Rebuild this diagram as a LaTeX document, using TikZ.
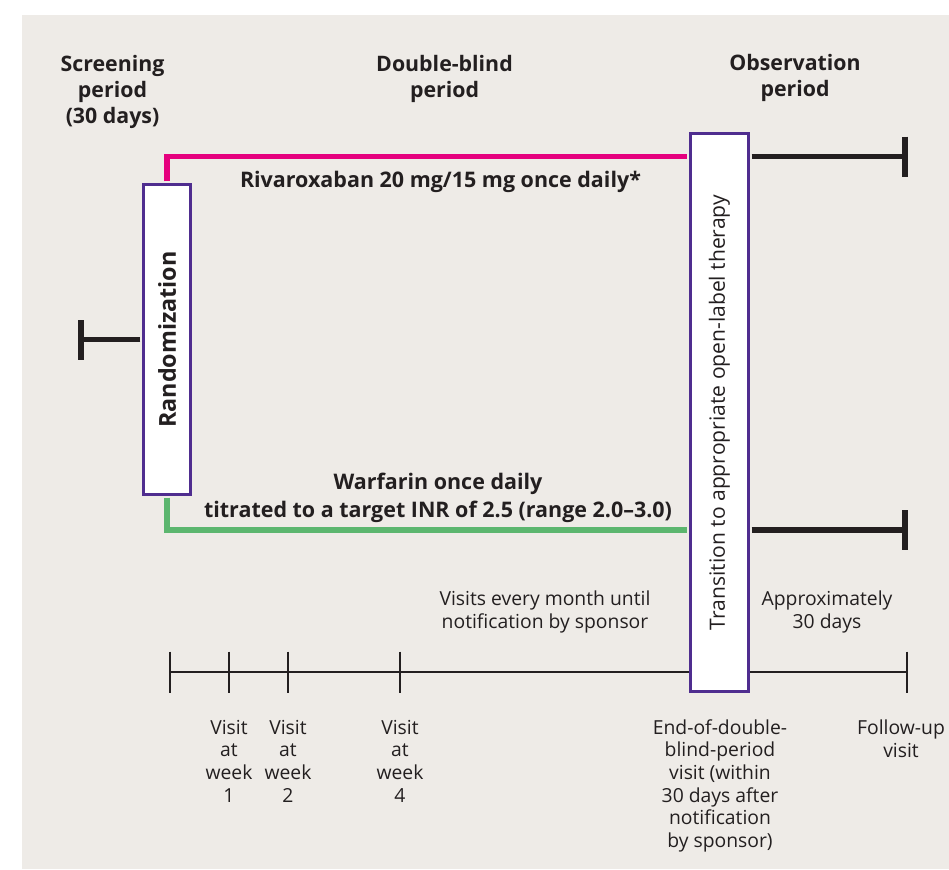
\documentclass[tikz,border=0pt]{standalone}
\usepackage{fontspec}
\setmainfont{Open Sans}
\usetikzlibrary{arrows.meta, positioning}
\definecolor{rivapink}{RGB}{229, 0, 126}
\definecolor{warfgreen}{RGB}{92, 182, 111}
\definecolor{boxpurple}{RGB}{79, 45, 143}
\definecolor{inkblack}{RGB}{35, 31, 32}
\definecolor{panelgrey}{RGB}{238, 235, 231}

\begin{document}
\begin{tikzpicture}[
  x=0.75pt, y=-0.75pt,
  period/.style={font=\fontsize{16}{19.5}\selectfont\bfseries, align=center, text=inkblack, inner sep=0pt, anchor=base},
  armlbl/.style={font=\fontsize{16.1}{20.5}\selectfont\bfseries, align=center, text=inkblack, inner sep=0pt, anchor=base},
  note/.style={font=\fontsize{14.5}{17}\selectfont, align=center, text=inkblack, inner sep=0pt, anchor=base},
  rbox/.style={draw=boxpurple, fill=white, line width=2.25pt, rotate=90, inner sep=0pt, text=inkblack},
  rivaline/.style={draw=rivapink, line width=3.8pt, shorten <=1.2pt, shorten >=1.2pt},
  warfline/.style={draw=warfgreen, line width=3.8pt, shorten <=1.2pt, shorten >=1.2pt},
  arm/.style={draw=inkblack, line width=4.2pt, shorten <=1.2pt, -{Bar[width=30pt]}},
  tline/.style={draw=inkblack, line width=2.2pt}
]
  \useasboundingbox (0,0) rectangle (949,869);
  \fill[panelgrey] (22,15) rectangle (949,869);

  % period headings (placed at last baseline)
  \node[period] (scr) at (112.5,123) {Screening\\period\\(30 days)};
  \node[period] (dbl) at (444.5,97) {Double-blind\\period};
  \node[period] (obs) at (795,96) {Observation\\period};

  % timeline with visit ticks
  \foreach \tx [count=\i] in {170,229,288,400,907}
    \coordinate (t\i) at (\tx,672);
  \draw[tline] (t1) -- (t5);
  \foreach \i in {1,...,5}
    \draw[tline] (t\i) ++(0,-20.5) -- ++(0,41);

  % randomization and transition boxes
  \node[rbox, minimum width=232.5pt, minimum height=35.25pt, font=\fontsize{17.5}{20}\selectfont\bfseries] (rand) at (167,339.5) {Randomization};
  \node[rbox, minimum width=418.5pt, minimum height=43.5pt, font=\fontsize{15.8}{18}\selectfont] (trans) at (719.5,412.5) {Transition to appropriate open-label therapy};

  % treatment arms
  \coordinate (rivline) at (0,156.5);
  \coordinate (warline) at (0,530);
  \coordinate (rivend) at (908,156.5);
  \coordinate (warend) at (908,530);
  \coordinate (scrstart) at (78,339.5);
  \draw[rivaline] (rand.east) |- (trans.north |- rivline);
  \draw[warfline] (rand.west) |- (trans.north |- warline);
  \draw[arm] (trans.south |- rivline) -- (rivend);
  \draw[arm] (trans.south |- warline) -- (warend);
  \draw[arm] (rand.north) -- (scrstart);

  \node[armlbl] (rivlbl) at (440.5,187) {Rivaroxaban 20 mg/15 mg once daily*};
  \node[armlbl] (warlbl) at (438,517) {Warfarin once daily\\titrated to a target INR of 2.5 (range 2.0–3.0)};

  % visit notes
  \node[note] (monthly) at (545,628) {Visits every month until\\notification by sponsor};
  \node[note] (approx) at (827,628) {Approximately\\30 days};
  \coordinate (vislbl) at (0,802);
  \foreach \i/\w in {2/1,3/2,4/4}
    \node[note] (wk\w) at (t\i |- vislbl) {Visit\\at\\week\\\w};
  \node[note] (eodb) at (720,847.5) {End-of-double-\\blind-period\\visit (within\\30 days after\\notification\\by sponsor)};
  \node[note] (fup) at (901,757) {Follow-up\\visit};
\end{tikzpicture}
\end{document}
